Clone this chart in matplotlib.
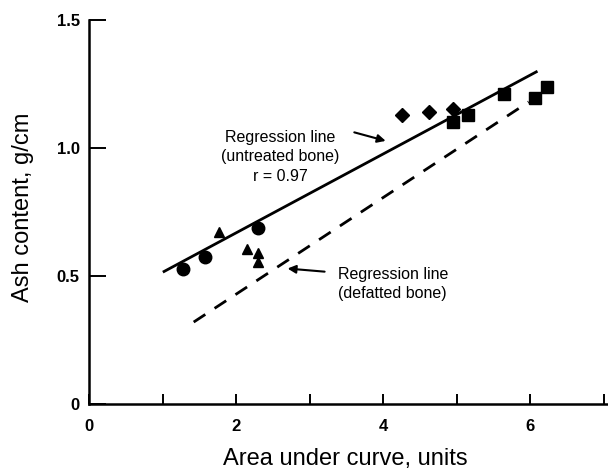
import matplotlib.pyplot as plt

plt.rcParams['font.family'] = ['Liberation Sans', 'DejaVu Sans']

# puntos
circ_x = [1.28, 1.58, 2.30]
circ_y = [0.527, 0.575, 0.686]
tri_x = [1.77, 2.14, 2.30, 2.30]
tri_y = [0.673, 0.604, 0.591, 0.556]
diam_x = [4.25, 4.62, 4.95]
diam_y = [1.13, 1.14, 1.151]
sq_x = [4.95, 5.16, 5.65, 6.07, 6.23]
sq_y = [1.103, 1.129, 1.21, 1.194, 1.239]

# rectas de regresion (extremos)
untreated_x = [1.0, 6.1]
untreated_y = [0.515, 1.30]
defatted_x = [1.42, 5.98]
defatted_y = [0.32, 1.18]

fig = plt.figure(figsize=(6.08, 4.71), dpi=100)
ax = fig.add_axes([0.147, 0.1423, 0.853, 0.8152])

ax.plot(untreated_x, untreated_y, color='black', lw=2.0, solid_capstyle='butt')
ax.plot(defatted_x, defatted_y, color='black', lw=2.0, dashes=(5, 4))

ax.plot(circ_x, circ_y, 'o', color='black', ms=9)
ax.plot(tri_x, tri_y, '^', color='black', ms=7)
ax.plot(diam_x, diam_y, 'D', color='black', ms=7.5)
ax.plot(sq_x, sq_y, 's', color='black', ms=8)

ax.set_xlim(0, 7.06)
ax.set_ylim(0, 1.5)
ax.set_xticks([0, 1, 2, 3, 4, 5, 6, 7])
ax.set_xticklabels(['0', '', '2', '', '4', '', '6', ''])
ax.set_yticks([0, 0.5, 1.0, 1.5])
ax.set_yticklabels(['0', '0.5', '1.0', '1.5'])

for s in ['top', 'right']:
    ax.spines[s].set_visible(False)
for s in ['left', 'bottom']:
    ax.spines[s].set_linewidth(1.8)

ax.tick_params(axis='x', direction='in', length=7, width=1.4, pad=11, labelsize=12)
ax.tick_params(axis='y', direction='in', length=12, width=1.4, pad=7, labelsize=12)
for lab in ax.get_xticklabels() + ax.get_yticklabels():
    lab.set_fontweight('bold')

ax.set_xlabel('Area under curve, units', fontsize=17)
ax.set_ylabel('Ash content, g/cm', fontsize=17)
ax.xaxis.set_label_coords(0.494, -0.115)
ax.yaxis.set_label_coords(-0.107, 0.513)

ax.text(2.6, 0.965, 'Regression line\n(untreated bone)\nr = 0.97', ha='center', va='center',
        fontsize=11.5, linespacing=1.35)
ax.annotate('', xy=(4.07, 1.025), xytext=(3.57, 1.064),
            arrowprops=dict(arrowstyle='-|>', color='black', lw=1.5, mutation_scale=12))

ax.text(3.38, 0.469, 'Regression line\n(defatted bone)', ha='left', va='center',
        fontsize=11.5, linespacing=1.35)
ax.annotate('', xy=(2.66, 0.530), xytext=(3.24, 0.516),
            arrowprops=dict(arrowstyle='-|>', color='black', lw=1.5, mutation_scale=12))

fig.savefig('out.png', dpi=100)
